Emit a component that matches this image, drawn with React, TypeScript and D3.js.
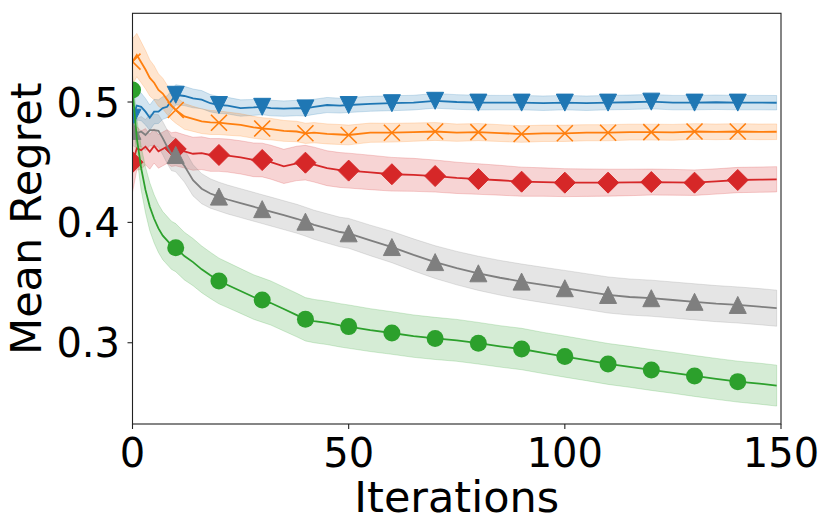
import React from 'react';
import * as d3 from 'd3';

// iteration sample points (x)
const iters = [0, 1, 2, 3, 4, 5, 6, 7, 8, 9, 10, 12, 14, 16, 18, 20, 22, 25, 28, 30, 32, 35, 38, 40, 42, 45, 48, 50,
  55, 60, 65, 70, 75, 80, 85, 90, 95, 100, 105, 110, 115, 120, 125, 130, 135, 140, 145, 149];

const blueMean = [0.487, 0.497, 0.496, 0.492, 0.487, 0.492, 0.492, 0.495, 0.496, 0.501, 0.506,
  0.505, 0.503, 0.502, 0.499, 0.4975, 0.497, 0.495, 0.4955, 0.496, 0.495, 0.4945, 0.495, 0.4947,
  0.496, 0.4975, 0.497, 0.4975, 0.4985, 0.499, 0.4995, 0.501, 0.5, 0.4995, 0.4995, 0.4995, 0.499,
  0.4995, 0.499, 0.4995, 0.4998, 0.5003, 0.4995, 0.4995, 0.4998, 0.4995, 0.4995, 0.4994];
const blueStd = [0.0125, 0.012, 0.0115, 0.011, 0.0105, 0.0102, 0.0098, 0.0094, 0.009, 0.0087, 0.0084,
  0.008, 0.0078, 0.0075, 0.0072, 0.007, 0.0069, 0.0068, 0.0066, 0.0065, 0.0065, 0.0064, 0.0064, 0.0063,
  0.0063, 0.0063, 0.0062, 0.0062, 0.0062, 0.0062, 0.0061, 0.0061, 0.0061, 0.0061, 0.006, 0.006, 0.006,
  0.006, 0.006, 0.006, 0.006, 0.006, 0.006, 0.006, 0.006, 0.006, 0.006, 0.006];

const orangeMean = [0.5335, 0.539, 0.533, 0.527, 0.52, 0.516, 0.51, 0.507, 0.502, 0.497, 0.4934,
  0.488, 0.486, 0.484, 0.483, 0.4828, 0.482, 0.481, 0.479, 0.478, 0.4775, 0.476, 0.4755, 0.474,
  0.4745, 0.4735, 0.473, 0.4726, 0.4745, 0.4745, 0.475, 0.4755, 0.4745, 0.475, 0.4742, 0.4734, 0.474,
  0.474, 0.4745, 0.4745, 0.475, 0.475, 0.4748, 0.4755, 0.4752, 0.4755, 0.4752, 0.4753];
const orangeStd = [0.019, 0.018, 0.017, 0.016, 0.015, 0.0142, 0.0135, 0.0128, 0.0122, 0.0116, 0.011,
  0.0107, 0.0104, 0.0102, 0.01, 0.0098, 0.0096, 0.0093, 0.0091, 0.009, 0.0089, 0.0087, 0.0085, 0.0084,
  0.0084, 0.0083, 0.0083, 0.0082, 0.008, 0.0078, 0.0076, 0.0074, 0.0072, 0.0071, 0.007, 0.0069, 0.0068,
  0.0068, 0.0067, 0.0067, 0.0066, 0.0066, 0.0066, 0.0065, 0.0065, 0.0065, 0.0065, 0.0065];

const redMean = [0.45, 0.4615, 0.46, 0.4629, 0.4587, 0.4635, 0.459, 0.461, 0.463, 0.4605, 0.461,
  0.459, 0.457, 0.4575, 0.456, 0.456, 0.4555, 0.454, 0.452, 0.4518, 0.45, 0.4465, 0.449, 0.4496,
  0.448, 0.445, 0.4435, 0.443, 0.4415, 0.44, 0.4395, 0.4385, 0.437, 0.436, 0.435, 0.4338, 0.4335,
  0.433, 0.433, 0.433, 0.4332, 0.4335, 0.4333, 0.433, 0.434, 0.4352, 0.4355, 0.4358];
const redStd = [0.025, 0.018, 0.016, 0.015, 0.0145, 0.0142, 0.014, 0.014, 0.014, 0.014, 0.014,
  0.0138, 0.0137, 0.0136, 0.0136, 0.0136, 0.0137, 0.0138, 0.014, 0.014, 0.0141, 0.0142, 0.0143, 0.0144,
  0.0145, 0.0145, 0.0145, 0.0145, 0.0143, 0.014, 0.0137, 0.0133, 0.013, 0.0127, 0.0124, 0.0121, 0.0118,
  0.0116, 0.0114, 0.0112, 0.011, 0.0108, 0.0107, 0.0106, 0.0105, 0.0105, 0.0105, 0.0105];

const grayMean = [0.476, 0.474, 0.4755, 0.4726, 0.4767, 0.4767, 0.476, 0.47, 0.463, 0.457, 0.456,
  0.447, 0.435, 0.428, 0.424, 0.4214, 0.419, 0.416, 0.413, 0.411, 0.409, 0.406, 0.403, 0.4006,
  0.398, 0.395, 0.392, 0.3909, 0.385, 0.3795, 0.373, 0.367, 0.362, 0.3577, 0.354, 0.3508, 0.348,
  0.3453, 0.3425, 0.3397, 0.338, 0.337, 0.3355, 0.334, 0.3325, 0.3314, 0.33, 0.3287];
const grayStd = [0.012, 0.0122, 0.0125, 0.0128, 0.013, 0.0132, 0.0135, 0.0138, 0.014, 0.014, 0.014,
  0.0135, 0.013, 0.0125, 0.0122, 0.012, 0.012, 0.012, 0.012, 0.012, 0.012, 0.012, 0.012, 0.012,
  0.0121, 0.0122, 0.0123, 0.0124, 0.0127, 0.013, 0.0133, 0.0136, 0.0139, 0.0142, 0.0144, 0.0146, 0.0147,
  0.0148, 0.0149, 0.015, 0.015, 0.015, 0.015, 0.015, 0.015, 0.015, 0.015, 0.015];

const greenMean = [0.51, 0.47, 0.445, 0.427, 0.413, 0.403, 0.395, 0.389, 0.385, 0.381, 0.379,
  0.372, 0.367, 0.361, 0.356, 0.3513, 0.348, 0.343, 0.338, 0.3355, 0.333, 0.328, 0.323, 0.3195,
  0.318, 0.3165, 0.3145, 0.3134, 0.3105, 0.3081, 0.3055, 0.3036, 0.302, 0.2996, 0.297, 0.2948, 0.2915,
  0.2885, 0.2855, 0.2824, 0.28, 0.2774, 0.275, 0.2724, 0.27, 0.2677, 0.266, 0.2644];
const greenStd = [0.012, 0.016, 0.018, 0.019, 0.02, 0.02, 0.02, 0.02, 0.02, 0.02, 0.02,
  0.0198, 0.0196, 0.0194, 0.0192, 0.019, 0.0188, 0.0186, 0.0185, 0.0184, 0.0183, 0.0182, 0.0181, 0.018,
  0.018, 0.018, 0.018, 0.018, 0.0178, 0.0177, 0.0176, 0.0175, 0.0174, 0.0173, 0.0172, 0.0172, 0.0171,
  0.0171, 0.017, 0.017, 0.017, 0.017, 0.017, 0.017, 0.017, 0.017, 0.017, 0.017];

const xTicks = [0, 50, 100, 150];
const yTicks = [0.3, 0.4, 0.5];

// draw order matters (later on top)
const series = [
  { key: 'blue', color: '#1f77b4', marker: 'tri_down', mean: blueMean, std: blueStd },
  { key: 'orange', color: '#ff7f0e', marker: 'x', mean: orangeMean, std: orangeStd },
  { key: 'red', color: '#d62728', marker: 'diamond', mean: redMean, std: redStd },
  { key: 'gray', color: '#7f7f7f', marker: 'tri_up', mean: grayMean, std: grayStd },
  { key: 'green', color: '#2ca02c', marker: 'circle', mean: greenMean, std: greenStd },
];

const W = 831;
const H = 531;
const left = 132.5, right = 781, top = 13.3, bottom = 424;
const FONT = 'DejaVu Sans, sans-serif';

function markerPath(kind: string, cx: number, cy: number): string {
  const h = 8.5;
  if (kind === 'tri_down') return `M${cx - h},${cy - h}L${cx + h},${cy - h}L${cx},${cy + h}Z`;
  if (kind === 'tri_up') return `M${cx - h},${cy + h}L${cx + h},${cy + h}L${cx},${cy - h}Z`;
  if (kind === 'diamond') {
    const r = 10.5;
    return `M${cx},${cy - r}L${cx + r},${cy}L${cx},${cy + r}L${cx - r},${cy}Z`;
  }
  if (kind === 'x') {
    const r = 8;
    return `M${cx - r},${cy - r}L${cx + r},${cy + r}M${cx - r},${cy + r}L${cx + r},${cy - r}`;
  }
  return '';
}

export default function App() {
  const x = d3.scaleLinear().domain([0, 150]).range([left, right]);
  const y = d3.scaleLinear().domain([0.2325, 0.5737]).range([bottom, top]);

  const line = d3.line<number>().x((_, i) => x(iters[i])).y(d => y(d));

  return (
    <svg width={W} height={H} style={{ position: 'absolute', left: 0, top: 0 }} fontFamily={FONT}>
      <rect width={W} height={H} fill="white" />
      <defs>
        <clipPath id="plot">
          <rect x={left} y={top} width={right - left} height={bottom - top} />
        </clipPath>
      </defs>
      <g clipPath="url(#plot)">
        {series.map(s => {
          const area = d3.area<number>()
            .x((_, i) => x(iters[i]))
            .y0((d, i) => y(d - s.std[i]))
            .y1((d, i) => y(d + s.std[i]));
          return (
            <path key={s.key + '-band'} d={area(s.mean) || ''} fill={s.color} fillOpacity={0.2}
              stroke={s.color} strokeOpacity={0.2} strokeWidth={1} />
          );
        })}
        {series.map(s => (
          <g key={s.key}>
            <path d={line(s.mean) || ''} fill="none" stroke={s.color} strokeWidth={1.8} />
            {iters.map((it, i) => {
              if (it % 10 !== 0 || it > 140) return null;
              const cx = x(it), cy = y(s.mean[i]);
              if (s.marker === 'circle') {
                return <circle key={it} cx={cx} cy={cy} r={8.5} fill={s.color} />;
              }
              if (s.marker === 'x') {
                return <path key={it} d={markerPath('x', cx, cy)} stroke={s.color} strokeWidth={1.6} fill="none" />;
              }
              return <path key={it} d={markerPath(s.marker, cx, cy)} fill={s.color} stroke={s.color} strokeWidth={1} strokeLinejoin="miter" />;
            })}
          </g>
        ))}
      </g>

      {/* frame */}
      <rect x={left} y={top} width={right - left} height={bottom - top} fill="none" stroke="#222" strokeWidth={1.1} />

      {/* x axis */}
      {xTicks.map(t => (
        <g key={'x' + t}>
          <line x1={x(t)} x2={x(t)} y1={bottom} y2={bottom + 5} stroke="#222" strokeWidth={1.1} />
          <text x={x(t)} y={467} textAnchor="middle" fontSize={40} fill="#000">{t}</text>
        </g>
      ))}
      <text x={(left + right) / 2} y={512} textAnchor="middle" fontSize={43} fill="#000">Iterations</text>

      {/* y axis */}
      {yTicks.map(t => (
        <g key={'y' + t}>
          <line x1={left - 5} x2={left} y1={y(t)} y2={y(t)} stroke="#222" strokeWidth={1.1} />
          <text x={120} y={y(t) + 14.5} textAnchor="end" fontSize={40} fill="#000">{t.toFixed(1)}</text>
        </g>
      ))}
      <text transform={`translate(41,${(top + bottom) / 2}) rotate(-90)`} textAnchor="middle" fontSize={43} fill="#000">Mean Regret</text>
    </svg>
  );
}
